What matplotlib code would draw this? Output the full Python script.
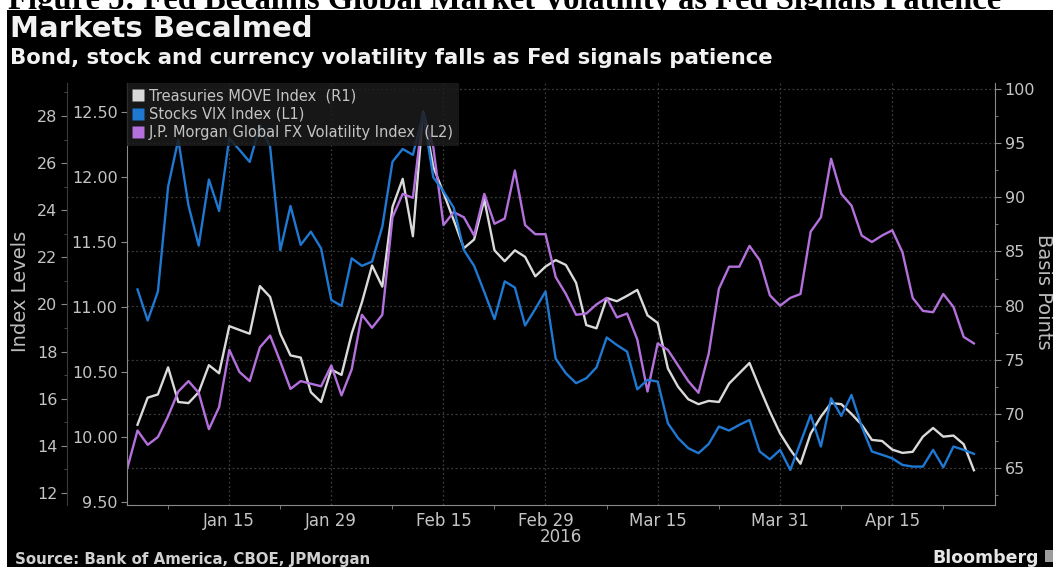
import numpy as np
import pandas as pd
import matplotlib
import matplotlib.pyplot as plt
from matplotlib.lines import Line2D
from matplotlib.patches import Rectangle
from matplotlib.ticker import MultipleLocator, FormatStrFormatter
matplotlib.use('Agg')

plt.rcParams['font.family'] = ['DejaVu Sans']

# ------------ data ------------ #
dates = pd.bdate_range('2016-01-01', '2016-04-27')

vix = [np.nan, 20.64, 19.32, 20.55, 25.0, 27.0, 24.2, 22.5, 25.3, 23.97,
       27.05, 26.56, 26.05, 27.6, 26.7, 22.3, 24.18, 22.53, 23.09, 22.38,
       20.19, 19.94, 21.96, 21.64, 21.82, 23.3, 26.06, 26.6, 26.35, 28.1,
       25.4, 24.8, 24.11, 22.31, 21.64, 20.53, 19.38, 20.98, 20.72, 19.11,
       19.81, 20.55, 17.7, 17.08, 16.66, 16.87, 17.33, 18.6, 18.28, 18.0,
       16.4, 16.8, 16.73, 14.96, 14.33, 13.9, 13.69, 14.08, 14.82, 14.65,
       14.89, 15.1, 13.76, 13.43, 13.83, 12.98, 14.14, 15.31, 13.97, 16.02,
       15.27, 16.16, 14.82, 13.76, 13.62, 13.47, 13.19, 13.12, 13.12, 13.83,
       13.09, 13.97, 13.83, 13.66]

move = [np.nan, 69.0, 71.5, 71.8, 74.3, 71.1, 71.0, 72.0, 74.5, 73.75,
        78.1, 77.75, 77.4, 81.8, 80.8, 77.4, 75.4, 75.2, 72.0, 71.1,
        74.1, 73.6, 77.4, 80.3, 83.7, 81.75, 89.1, 91.7, 86.4, 97.9,
        92.8, 90.4, 87.9, 85.3, 86.1, 89.8, 85.1, 84.1, 85.1, 84.5,
        82.7, 83.6, 84.2, 83.75, 82.1, 78.2, 77.9, 80.7, 80.4, 80.9,
        81.45, 79.1, 78.4, 74.2, 72.5, 71.35, 70.9, 71.2, 71.1, 72.8,
        73.75, 74.7, 72.4, 70.2, 68.2, 66.7, 65.4, 68.2, 69.75, 71.0,
        70.9, 70.0, 69.0, 67.6, 67.5, 66.7, 66.4, 66.5, 67.9, 68.7,
        67.9, 68.0, 67.2, 64.8]

fxvol = [9.76, 10.05, 9.94, 10.0, 10.16, 10.35, 10.43, 10.34, 10.06, 10.23,
         10.67, 10.5, 10.43, 10.69, 10.78, 10.58, 10.37, 10.43, 10.41, 10.39,
         10.55, 10.32, 10.52, 10.94, 10.84, 10.94, 11.69, 11.87, 11.84, 12.5,
         12.23, 11.63, 11.73, 11.69, 11.55, 11.87, 11.64, 11.68, 12.05, 11.63,
         11.56, 11.56, 11.23, 11.1, 10.94, 10.95, 11.02, 11.07, 10.92, 10.95,
         10.75, 10.35, 10.72, 10.67, 10.55, 10.43, 10.34, 10.64, 11.14, 11.31,
         11.31, 11.47, 11.36, 11.09, 11.01, 11.07, 11.1, 11.58, 11.69, 12.14,
         11.87, 11.78, 11.55, 11.5, 11.55, 11.59, 11.42, 11.07, 10.97, 10.96,
         11.1, 11.0, 10.77, 10.72]

major_dates = ['2016-01-15', '2016-01-29', '2016-02-15', '2016-02-29',
               '2016-03-15', '2016-03-31', '2016-04-15']
major_labels = ['Jan 15', 'Jan 29', 'Feb 15', 'Feb 29', 'Mar 15', 'Mar 31', 'Apr 15']
minor_dates = ['2016-01-07', '2016-01-22', '2016-02-08', '2016-02-22',
               '2016-03-08', '2016-03-23', '2016-04-08', '2016-04-22']

labels = ['Treasuries MOVE Index  (R1)', 'Stocks VIX Index (L1)',
          'J.P. Morgan Global FX Volatility Index  (L2)']
colors = ['#dadada', '#1f78d2', '#b470dc']

# ------------ figure ------------ #
W, H = 1053, 567
fig = plt.figure(figsize=(W / 100, H / 100), dpi=100)
fig.patch.set_facecolor('white')
fig.patches.append(Rectangle((7 / W, 0), 1 - 7 / W, 1 - 10 / H, transform=fig.transFigure,
                             facecolor='black', edgecolor='none', zorder=-1))

# cut-off report caption above the chart
fig.text(8 / W, 1 - 9 / H, 'Figure 5: Fed Becalms Global Market Volatility as Fed Signals Patience',
         family='Liberation Serif', weight='bold', size=23.5, color='black', va='baseline')

fig.text(10 / W, 1 - 37 / H, 'Markets Becalmed', size=21, weight='bold',
         color='#f2f2f2', va='baseline')
fig.text(10 / W, 1 - 64 / H, 'Bond, stock and currency volatility falls as Fed signals patience',
         size=15.3, weight='bold', color='#f2f2f2', va='baseline')
fig.text(15 / W, 1 - 564 / H, 'Source: Bank of America, CBOE, JPMorgan', size=10.8,
         weight='bold', color='#d0d0d0', va='baseline')
fig.text(932 / W, 1 - 563 / H, 'Bloomberg', size=12.5, weight='bold',
         color='#e6e6e6', va='baseline')
fig.patches.append(Rectangle((1045 / W, 1 - 562 / H), 10 / W, 12 / H, transform=fig.transFigure,
                             facecolor='#9c9c9c', edgecolor='none'))

fig.text(21 / W, 1 - 291 / H, 'Index Levels', rotation=90, ha='center', va='center',
         size=14, color='#bdbdbd')
fig.text(1043 / W, 1 - 292 / H, 'Basis Points', rotation=270, ha='center', va='center',
         size=14, color='#bdbdbd')

ax_move = fig.add_axes([127.3 / W, 1 - 505 / H, (995 - 127.3) / W, (505 - 83) / H])
ax_move.set_facecolor('black')
ax_fx = ax_move.twinx()
ax_vix = ax_move.twinx()

x = np.arange(len(dates))
ax_move.plot(x, move, color=colors[0], lw=1.7)
ax_fx.plot(x, fxvol, color=colors[2], lw=1.7)
ax_vix.plot(x, vix, color=colors[1], lw=1.7)

ax_move.set_xlim(0, 85.07)
ax_move.set_ylim(61.59, 100.55)
ax_fx.set_ylim(9.477, 12.723)
ax_vix.set_ylim(11.49, 29.40)

spine_c = '#8a8a8a'
lab_c = '#c4c4c4'

# right axis (basis points)
ax_move.yaxis.tick_right()
ax_move.yaxis.set_major_locator(MultipleLocator(5))
ax_move.yaxis.set_minor_locator(MultipleLocator(2.5))
for s in ['top', 'left']:
    ax_move.spines[s].set_visible(False)
for s in ['right', 'bottom']:
    ax_move.spines[s].set_color(spine_c)
ax_move.tick_params(axis='y', which='major', length=4, color=spine_c, pad=3,
                    labelsize=11.5, labelcolor=lab_c)
ax_move.tick_params(axis='y', which='minor', length=2.5, color=spine_c)
ax_move.grid(axis='y', which='major', color='#3c3c3c', linestyle=(0, (1.5, 2)), lw=0.9)

# date axis
ax_move.set_xticks(dates.get_indexer(pd.to_datetime(major_dates)))
ax_move.set_xticklabels(major_labels)
ax_move.set_xticks(dates.get_indexer(pd.to_datetime(minor_dates)), minor=True)
ax_move.tick_params(axis='x', which='major', length=0, pad=5, labelsize=12, labelcolor=lab_c)
ax_move.tick_params(axis='x', which='minor', length=3, color=spine_c)
ax_move.grid(axis='x', which='major', color='#3c3c3c', linestyle=(0, (1.5, 2)), lw=0.9)
ax_move.text(0.5, -0.076, '2016', transform=ax_move.transAxes, ha='center', va='center',
             size=12, color=lab_c)

# left axes
for a in [ax_fx, ax_vix]:
    a.yaxis.tick_left()
    for s in ['top', 'right', 'bottom']:
        a.spines[s].set_visible(False)
    a.spines['left'].set_visible(True)

ax_fx.spines['left'].set_color(spine_c)
ax_fx.yaxis.set_major_locator(MultipleLocator(0.5))
ax_fx.yaxis.set_major_formatter(FormatStrFormatter('%.2f'))
ax_fx.tick_params(axis='y', which='major', length=4, color=spine_c, pad=3,
                  labelsize=11.5, labelcolor=lab_c)

ax_vix.spines['left'].set_position(('axes', -0.0695))
ax_vix.spines['left'].set_color('#3a3a3a')
ax_vix.yaxis.set_major_locator(MultipleLocator(2))
ax_vix.yaxis.set_minor_locator(MultipleLocator(1))
ax_vix.set_yticks([t for t in range(12, 29, 2)])
ax_vix.tick_params(axis='y', which='major', length=4, color=spine_c, pad=3,
                   labelsize=11.5, labelcolor=lab_c)
ax_vix.tick_params(axis='y', which='minor', length=2, color='#555555')

handles = [Line2D([], [], marker='s', ls='none', color=c, markersize=8, markeredgecolor='none')
           for c in colors]
leg = ax_vix.legend(handles, labels, loc='upper left', bbox_to_anchor=(0, 1), borderaxespad=0,
                    fontsize=10.5, labelcolor=lab_c, frameon=True, fancybox=False,
                    facecolor='#1c1c1c', edgecolor='none', framealpha=0.85,
                    handlelength=0.8, handletextpad=0.35, labelspacing=0.25, borderpad=0.35)
leg.set_zorder(10)

fig.savefig('out.png', dpi=100, facecolor=fig.get_facecolor())
